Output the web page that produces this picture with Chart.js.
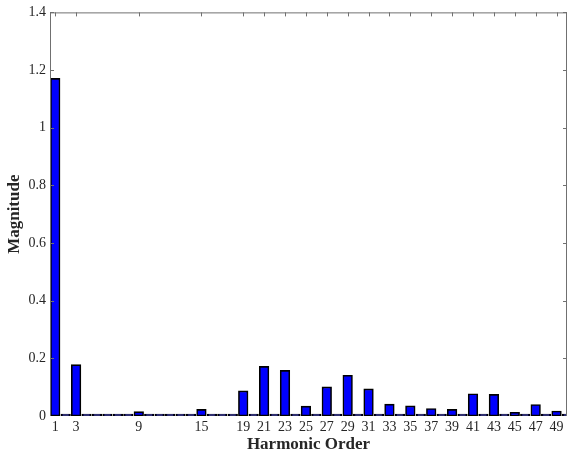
<!DOCTYPE html>
<html>
<head>
<meta charset="utf-8">
<script src="https://cdn.jsdelivr.net/npm/chart.js@4/dist/chart.umd.min.js"></script>
<style>
  html, body { margin: 0; padding: 0; background: #ffffff; }
  #wrap { width: 568px; height: 459px; }
</style>
</head>
<body>
<div id="wrap"><canvas id="chart" width="568" height="459"></canvas></div>
<script>
// Harmonic orders 1..50 and the magnitude of each harmonic
const harmonicOrder = [1, 2, 3, 4, 5, 6, 7, 8, 9, 10, 11, 12, 13, 14, 15, 16, 17, 18, 19, 20,
  21, 22, 23, 24, 25, 26, 27, 28, 29, 30, 31, 32, 33, 34, 35, 36, 37, 38, 39, 40,
  41, 42, 43, 44, 45, 46, 47, 48, 49, 50];
const magnitude = [1.171, 0, 0.178, 0, 0, 0, 0, 0, 0.015, 0, 0, 0, 0, 0, 0.023, 0, 0, 0, 0.087, 0,
  0.172, 0, 0.158, 0, 0.034, 0, 0.101, 0, 0.141, 0, 0.094, 0, 0.041, 0, 0.035, 0, 0.026, 0, 0.023, 0,
  0.077, 0, 0.075, 0, 0.013, 0, 0.040, 0, 0.017, 0];

// Orders that carry a label on the horizontal axis
const xTickLabels = [1, 3, 9, 15, 19, 21, 23, 25, 27, 29, 31, 33, 35, 37, 39, 41, 43, 45, 47, 49];
// Magnitude axis ticks
const yTickValues = [0, 0.2, 0.4, 0.6, 0.8, 1, 1.2, 1.4];

const FONT = "'Liberation Serif', 'Times New Roman', serif";
const TEXT = '#262626';
const FRAME = '#707070';

// Box frame (left, top, right) with short inward tick marks
const framePlugin = {
  id: 'frame',
  afterDatasetsDraw(chart) {
    const { ctx, chartArea: a, scales } = chart;
    const xs = scales.x, ys = scales.y;
    ctx.save();
    ctx.strokeStyle = FRAME;
    ctx.lineWidth = 1;
    ctx.beginPath();
    ctx.moveTo(a.left + 0.5, a.bottom);
    ctx.lineTo(a.left + 0.5, a.top + 0.5);
    ctx.lineTo(a.right - 0.5, a.top + 0.5);
    ctx.lineTo(a.right - 0.5, a.bottom);
    const tl = 4;
    xTickLabels.forEach(v => {
      const px = Math.round(xs.getPixelForValue(v)) + 0.5;
      ctx.moveTo(px, a.top);
      ctx.lineTo(px, a.top + tl);
    });
    yTickValues.forEach(v => {
      const py = Math.round(ys.getPixelForValue(v)) + 0.5;
      if (v === 0) return;
      ctx.moveTo(a.left, py);
      ctx.lineTo(a.left + tl, py);
      ctx.moveTo(a.right, py);
      ctx.lineTo(a.right - tl, py);
    });
    ctx.stroke();
    ctx.restore();
  }
};

new Chart(document.getElementById('chart'), {
  type: 'bar',
  data: {
    datasets: [{
      data: harmonicOrder.map((h, i) => ({ x: h, y: magnitude[i] })),
      backgroundColor: '#0000ff',
      borderColor: '#000000',
      borderWidth: 1.6,
      borderSkipped: false,
      barThickness: 9.6,
      minBarLength: 2
    }]
  },
  options: {
    responsive: false,
    animation: false,
    layout: { padding: { top: 9, right: 1, left: 0, bottom: 0 } },
    plugins: { legend: { display: false }, tooltip: { enabled: false } },
    scales: {
      x: {
        type: 'linear',
        min: 0.5,
        max: 50,
        offset: false,
        grid: { display: false, drawTicks: false },
        border: { display: false },
        afterBuildTicks: s => { s.ticks = xTickLabels.map(v => ({ value: v })); },
        afterFit: s => { s.height = 43; },
        ticks: {
          autoSkip: false,
          maxRotation: 0,
          padding: 3,
          color: TEXT,
          font: { family: FONT, size: 14 },
          callback: v => String(v)
        },
        title: {
          display: true,
          text: 'Harmonic Order',
          color: TEXT,
          font: { family: FONT, size: 17, weight: 'bold' },
          padding: { top: 0, bottom: 4 }
        }
      },
      y: {
        min: 0,
        max: 1.4,
        grid: { display: false, drawTicks: false },
        border: { display: false },
        afterBuildTicks: s => { s.ticks = yTickValues.map(v => ({ value: v })); },
        afterFit: s => { s.width = 50; },
        ticks: {
          padding: 4,
          color: TEXT,
          font: { family: FONT, size: 14 },
          callback: v => String(v)
        },
        title: {
          display: true,
          text: 'Magnitude',
          color: TEXT,
          font: { family: FONT, size: 17, weight: 'bold' },
          padding: { top: 4, bottom: 0 }
        }
      }
    }
  },
  plugins: [framePlugin]
});
</script>
</body>
</html>
